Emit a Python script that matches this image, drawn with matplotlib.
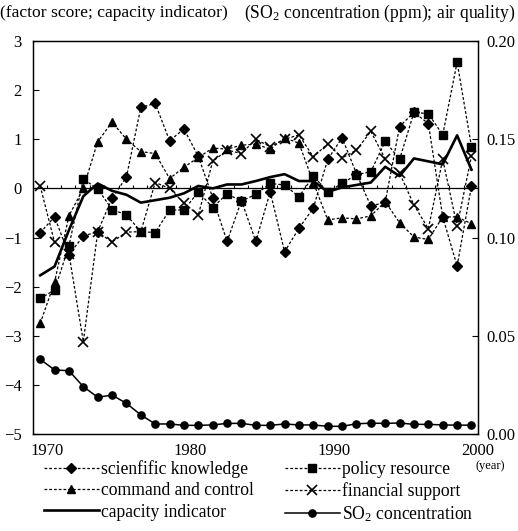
import numpy as np
import matplotlib
matplotlib.use("Agg")
import matplotlib.pyplot as plt

plt.rcParams['font.family'] = ['Liberation Serif', 'DejaVu Serif']
plt.rcParams['mathtext.fontset'] = 'custom'
plt.rcParams['mathtext.rm'] = 'Liberation Serif'
plt.rcParams['mathtext.it'] = 'Liberation Serif:italic'

# data, 1970-2000
years = np.arange(1970, 2001)
scientific = [-0.9, -0.58, -1.35, -0.97, -0.88, -0.2, 0.23, 1.65, 1.73, 0.97, 1.21,
              0.65, -0.19, -1.08, -0.25, -1.08, -0.07, -1.29, -0.81, -0.4, 0.59,
              1.03, 0.3, -0.36, -0.28, 1.26, 1.55, 1.32, -0.58, -1.58, 0.05]
policy = [-2.24, -2.07, -1.17, 0.19, -0.01, -0.43, -0.54, -0.88, -0.9, -0.44, -0.44,
          -0.07, -0.39, -0.11, -0.26, -0.12, 0.1, 0.07, -0.17, 0.25, -0.07,
          0.1, 0.28, 0.34, 0.96, 0.59, 1.55, 1.52, 1.09, 2.57, 0.85]
command = [-2.75, -1.91, -0.56, 0.0, 0.95, 1.35, 1.0, 0.75, 0.71, 0.2, 0.43,
           0.63, 0.82, 0.8, 0.88, 0.9, 0.8, 1.03, 0.92, 0.12, -0.64,
           -0.6, -0.62, -0.56, -0.27, -0.7, -0.99, -1.04, -0.58, -0.58, -0.72]
financial = [0.05, -1.1, -1.33, -3.12, -0.89, -1.09, -0.89, -0.88, 0.12, 0.0, -0.3,
             -0.54, 0.55, 0.78, 0.71, 1.0, 0.85, 1.0, 1.09, 0.64, 0.91,
             0.62, 0.78, 1.16, 0.6, 0.31, -0.34, -0.82, 0.59, -0.77, 0.66]
capacity = [-1.77, -1.59, -0.85, -0.16, 0.1, -0.05, -0.13, -0.29, -0.24, -0.19, -0.1,
            0.05, 0.0, 0.08, 0.08, 0.15, 0.23, 0.29, 0.15, 0.15, -0.07,
            0.02, 0.07, 0.12, 0.44, 0.25, 0.61, 0.55, 0.49, 1.08, 0.38]
so2 = [0.038, 0.0326, 0.0322, 0.0241, 0.0187, 0.0198, 0.0156, 0.0097, 0.0051, 0.0051, 0.0044,
       0.0044, 0.0046, 0.0054, 0.0054, 0.0044, 0.0044, 0.0051, 0.0046, 0.0046, 0.0039,
       0.0039, 0.0052, 0.0055, 0.0054, 0.0056, 0.0049, 0.0049, 0.0046, 0.0045, 0.0045]

labels = ['scienfific knowledge', 'command and control', 'capacity indicator',
          'policy resource', 'financial support', 'SO$_2$ concentration']
tick_years = [1970, 1980, 1990, 2000]
shift = 0.45  # year labels sit a bit right of the data points

fig = plt.figure(figsize=(5.18, 5.31), dpi=100)
ax = fig.add_axes([0.0637, 0.1827, 0.859, 0.740])
ax2 = ax.twinx()

dash = (0, (2.2, 1.6))
ax.axhline(0, color='k', lw=0.9, zorder=1)
ax.vlines(years + shift, 0, 0.07, color='k', lw=0.8, zorder=1)

l_sci, = ax.plot(years, scientific, color='k', ls=dash, lw=0.9, marker='D', ms=4.8)
l_pol, = ax.plot(years, policy, color='k', ls=dash, lw=0.9, marker='s', ms=5.2)
l_cmd, = ax.plot(years, command, color='k', ls=dash, lw=0.9, marker='^', ms=5.8)
l_fin, = ax.plot(years, financial, color='k', ls=dash, lw=0.9, marker='x', ms=6.5, mew=1.2)
l_cap, = ax.plot(years, capacity, color='k', lw=1.9)
l_so2, = ax2.plot(years, so2, color='k', lw=1.1, marker='o', ms=5.2)

ax.set_xlim(1969.5, 2000.45)
ax.set_ylim(-5, 3)
ax2.set_ylim(0, 0.2)
ax.set_xticks([t + shift for t in tick_years])
ax.set_xticklabels([str(t) for t in tick_years])
ax.set_yticks(range(-5, 4))
ax.set_yticklabels([str(v).replace('-', '\u2212') for v in range(-5, 4)])
ax2.set_yticks([0, 0.05, 0.10, 0.15, 0.20])
ax2.set_yticklabels(['0.00', '0.05', '0.10', '0.15', '0.20'])

ax.tick_params(axis='both', direction='in', labelsize=12, length=4, width=0.8)
ax.tick_params(axis='y', pad=8)
ax.tick_params(axis='x', pad=6.5, length=0)
ax2.tick_params(axis='y', direction='in', labelsize=12, length=4, width=0.8, pad=6)
for a in (ax, ax2):
    for s in a.spines.values():
        s.set_linewidth(0.9)

fig.text(0.0, 1 - 13 / 531, '(factor score; capacity indicator)', fontsize=12.6, va='center', ha='left')
fig.text(244 / 518, 1 - 13 / 531, '(SO$_2$ concentration (ppm); air quality)', fontsize=12.7,
         va='center', ha='left')
fig.text(490 / 518, 1 - 466 / 531, '(year)', fontsize=9, va='center', ha='center')

handles = [l_sci, l_cmd, l_cap, l_pol, l_fin, l_so2]
leg = fig.legend(handles, labels, loc='upper left', bbox_to_anchor=(0.085, 0.134), ncol=2,
                 frameon=False, fontsize=12.7, handlelength=3.1, handletextpad=0.15,
                 labelspacing=0.25, columnspacing=1.75, borderaxespad=0, borderpad=0)

fig.savefig('out.png', dpi=100)
